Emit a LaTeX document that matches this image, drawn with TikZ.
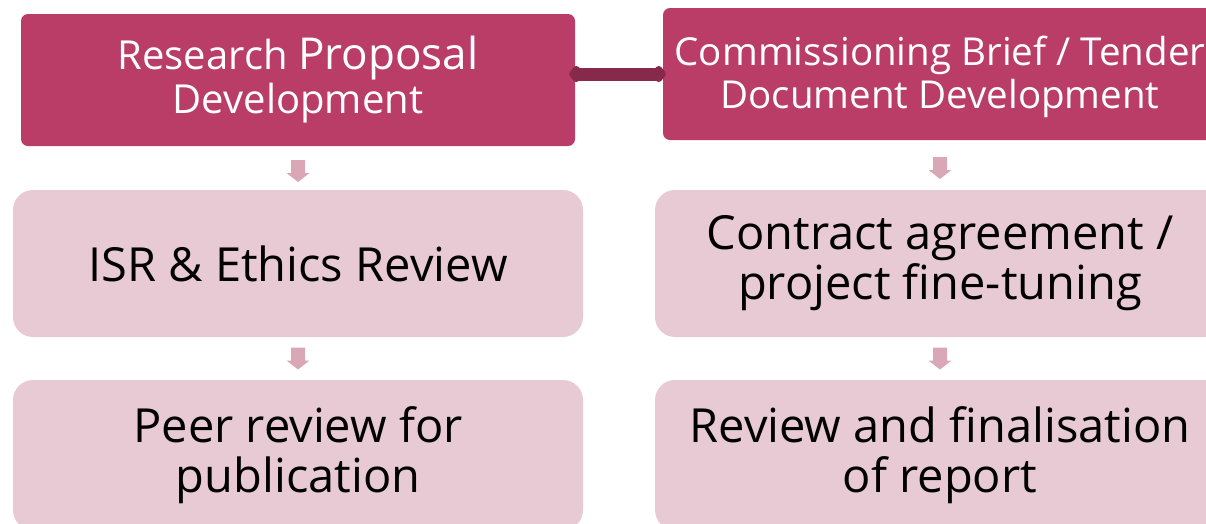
\documentclass[tikz,border=0pt]{standalone}
\usepackage{fontspec}
\setmainfont{Open Sans}
\usetikzlibrary{arrows.meta,calc}
\definecolor{headfill}{HTML}{B93D66}
\definecolor{linkdark}{HTML}{87294B}
\definecolor{stepfill}{HTML}{E8CAD4}
\definecolor{arrowfill}{HTML}{DAA7B7}
\tikzset{
  headbox/.style={fill=headfill, text=white, rounded corners=7pt, align=center,
    inner sep=0pt, minimum width=554pt, minimum height=132pt},
  stepbox/.style={fill=stepfill, text=black, rounded corners=20pt, align=center,
    inner sep=0pt, minimum width=570pt, font=\fontsize{47}{50}\selectfont},
  % small block arrow pointing down, drawn around its centre
  downarrow/.pic={
    \fill[arrowfill] (-7,-11) -- (7,-11) -- (7,2) -- (11.5,2) -- (0,11)
      -- (-11.5,2) -- (-7,2) -- cycle;
  },
}
\begin{document}
\begin{tikzpicture}[x=1pt,y=-1pt]
\useasboundingbox (0,0) rectangle (1206,523);
\clip (0,0) rectangle (1206,523);

% header boxes
\node[headbox, font=\fontsize{40}{44}\selectfont] (prop) at (298,80)
  {Research {\fontsize{44}{44}\selectfont Proposal}\\Development};
\node[headbox, font=\fontsize{38.5}{43}\selectfont, text depth=4pt] (brief) at (940,74)
  {Commissioning Brief / Tender\\Document Development};

% step boxes
\node[stepbox, minimum height=147pt] (isr) at (298,263.5) {ISR \& Ethics Review};
\node[stepbox, minimum height=150pt] (peer) at (298,455) {Peer review for\\publication};
\node[stepbox, minimum height=147pt] (contract) at (940,263.5) {Contract agreement /\\project fine-tuning};
\node[stepbox, minimum height=150pt] (final) at (940,455) {Review and finalisation\\of report};

% link between the two header boxes
\draw[linkdark, line width=13pt,
      {Diamond[length=16pt,width=20pt,round]}-{Diamond[length=16pt,width=20pt,round]},
      shorten <=-6pt, shorten >=-3pt] (prop.east |- brief.west) -- (brief.west);

% small down arrows between the steps
\pic at ($(prop.south)!0.5!(isr.north)+(0,3)$) {downarrow};
\pic at ($(isr.south)!0.5!(peer.north)$) {downarrow};
\pic at ($(brief.south)!0.5!(contract.north)+(0,3)$) {downarrow};
\pic at ($(contract.south)!0.5!(final.north)$) {downarrow};
\end{tikzpicture}
\end{document}
